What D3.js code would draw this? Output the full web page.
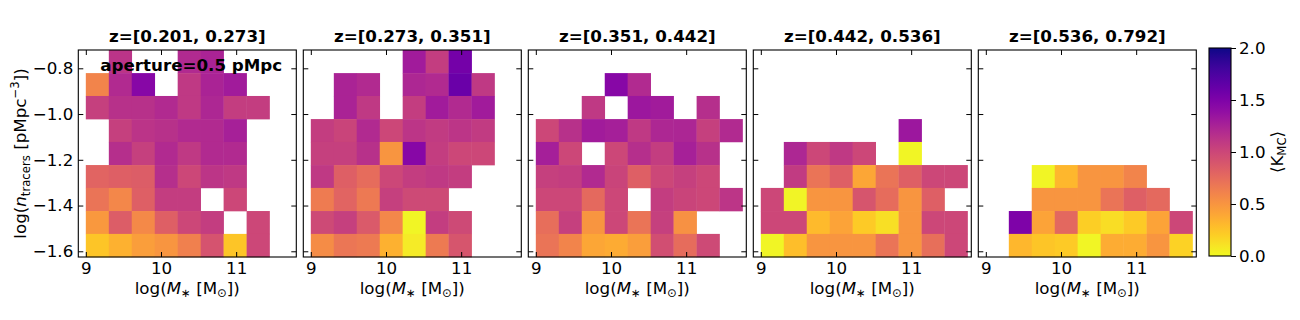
<!DOCTYPE html>
<html>
<head>
<meta charset="utf-8">
<script src="https://cdn.jsdelivr.net/npm/d3@7"></script>
<style>
  body { margin: 0; background: #fff; }
  svg { font-family: "DejaVu Sans", sans-serif; }
</style>
</head>
<body>
<svg id="chart" width="1300" height="320"></svg>
<script>
// redshift bins, one panel each
const zBins = ["z=[0.201, 0.273]", "z=[0.273, 0.351]", "z=[0.351, 0.442]", "z=[0.442, 0.536]", "z=[0.536, 0.792]"];

// bin edges
const massEdges = [9.000, 9.306, 9.611, 9.917, 10.222, 10.528, 10.833, 11.139, 11.444, 11.750];
const densEdges = [-1.625, -1.524, -1.424, -1.323, -1.223, -1.122, -1.022, -0.921, -0.821, -0.720];

const massTicks = [9, 10, 11];
const densTicks = [-0.8, -1.0, -1.2, -1.4, -1.6];
const kTicks = [0, 0.5, 1.0, 1.5, 2.0];

// <K_MC> per cell, rows from the top density bin down, null = empty
const n = null;
const kmcZ1 = [
    [n, 1.13, n, n, 1.2, 1.25, n, n, n],
    [0.6, 1.2, 1.45, n, 1.1, 1.25, 1.3, n, n],
    [1.05, 1.15, 1.15, 1.2, 1.1, 1.22, 1.07, 1.07, n],
    [n, 1.05, 1.13, 1.15, 1.2, 1.2, 1.27, n, n],
    [n, 1.17, 1.05, 1.2, 1.1, 1.2, 1.2, n, n],
    [0.8, 0.83, 0.85, 1.17, 1.0, 1.12, 1.1, n, n],
    [0.7, 0.58, 0.83, 1.07, 1.07, n, 1.0, n, n],
    [0.48, 0.85, 0.57, 0.83, 1.0, 1.07, n, 1.0, n],
    [0.25, 0.35, 0.45, 0.5, 0.62, 0.92, 0.25, 1.0, n]
];
const kmcZ2 = [
    [n, n, n, n, 1.3, 1.07, 1.55, n, n],
    [n, 1.25, 1.2, n, 1.22, 1.2, 1.6, 1.1, n],
    [n, 1.25, 1.1, n, 1.07, 1.3, 1.2, 1.3, n],
    [1.07, 1.02, 1.2, 1.0, 1.12, 1.08, 1.12, 1.08, n],
    [1.05, 1.05, 1.15, 0.5, 1.45, 1.07, 1.0, 1.0, n],
    [1.1, 0.83, 0.75, 1.0, 1.07, 1.1, 1.07, n, n],
    [0.65, 0.8, 0.67, 1.05, 0.98, 0.98, n, n, n],
    [0.98, 1.05, 0.87, 0.58, 0.02, 1.07, 0.98, n, n],
    [0.55, 0.68, 0.66, 0.35, 0.07, 0.66, 0.9, n, n]
];
const kmcZ3 = [
    [n, n, n, n, n, n, n, n, n],
    [n, n, n, 1.45, 1.2, n, n, n, n],
    [n, n, 1.1, n, 1.33, 1.3, n, 1.17, n],
    [1.0, 1.15, 1.3, 1.28, 1.1, 1.22, 1.23, 1.05, 1.2],
    [1.28, 1.0, n, 1.0, 1.17, 1.07, 1.27, 1.15, n],
    [1.05, 1.07, 1.2, 1.02, 0.83, 1.0, 1.05, 1.0, n],
    [1.0, 1.0, 0.77, 1.0, n, 1.07, 1.02, 1.0, 1.12],
    [0.74, 1.05, 0.5, 1.0, 0.7, 1.05, 0.52, n, n],
    [0.7, 0.6, 0.4, 0.38, 0.45, 0.95, 0.75, 0.98, n]
];
const kmcZ4 = [
    [n, n, n, n, n, n, n, n, n],
    [n, n, n, n, n, n, n, n, n],
    [n, n, n, n, n, n, n, n, n],
    [n, n, n, n, n, n, 1.33, n, n],
    [n, 1.22, 1.0, 1.1, 1.0, n, 0.02, n, n],
    [n, 1.08, 0.7, 0.83, 0.4, 0.7, 0.83, 1.0, 1.0],
    [1.0, 0.03, 0.5, 0.5, 0.9, 0.75, 0.5, 0.83, n],
    [1.0, 1.0, 0.3, 0.42, 0.22, 0.12, 0.5, 1.0, 1.0],
    [0.02, 0.28, 0.5, 0.5, 0.5, 0.7, 0.5, 0.73, 1.0]
];
const kmcZ5 = [
    [n, n, n, n, n, n, n, n, n],
    [n, n, n, n, n, n, n, n, n],
    [n, n, n, n, n, n, n, n, n],
    [n, n, n, n, n, n, n, n, n],
    [n, n, n, n, n, n, n, n, n],
    [n, n, 0.02, 0.32, 0.5, 0.5, 0.6, n, n],
    [n, n, 0.5, 0.5, 0.5, 0.7, 0.83, 0.77, n],
    [n, 1.5, 0.42, 0.78, 0.2, 0.13, 0.22, 0.42, 1.0],
    [n, 0.32, 0.25, 0.22, 0.02, 0.37, 0.37, 0.5, 0.18]
];
const panels = [kmcZ1, kmcZ2, kmcZ3, kmcZ4, kmcZ5];

const svg = d3.select("#chart");
const FS = 16.7;

const panelW = 218, panelH = 207, panelTop = 50, step = 225, left0 = 78.3;

const x = d3.scaleLinear().domain([8.9, 11.8]).range([0, panelW]);
const y = d3.scaleLinear().domain([-1.625, -0.72]).range([panelH, 0]);

// plasma reversed, 0 -> yellow, 2 -> dark blue
const color = d3.scaleSequential(t => d3.interpolatePlasma(1 - t)).domain([0, 2]);

function styleAxis(g) {
    g.select(".domain").remove();
    g.attr("font-size", null).attr("font-family", null);
    g.selectAll("line").attr("stroke", "#000").attr("stroke-width", 1);
    g.selectAll("text").style("font-size", FS + "px").attr("fill", "#000");
}

panels.forEach((grid, p) => {
    const g = svg.append("g").attr("transform", `translate(${left0 + p * step},${panelTop})`);

    grid.forEach((row, r) => {
        const yi = densEdges.length - 2 - r;
        row.forEach((v, c) => {
            if (v === null) return;
            g.append("rect")
                .attr("x", x(massEdges[c]))
                .attr("y", y(densEdges[yi + 1]))
                .attr("width", x(massEdges[c + 1]) - x(massEdges[c]) + 0.3)
                .attr("height", y(densEdges[yi]) - y(densEdges[yi + 1]) + 0.3)
                .attr("fill", color(v));
        });
    });

    if (p === 0) {
        g.append("text")
            .attr("x", 22).attr("y", 21)
            .style("font-size", FS + "px").style("font-weight", "bold")
            .text("aperture=0.5 pMpc");
    }

    g.append("g").attr("transform", `translate(0,${panelH})`)
        .call(d3.axisBottom(x).tickValues(massTicks).tickFormat(d3.format("d"))
            .tickSizeInner(-5).tickSizeOuter(0).tickPadding(5))
        .call(styleAxis);
    g.append("g")
        .call(d3.axisTop(x).tickValues(massTicks).tickFormat("").tickSizeInner(-5).tickSizeOuter(0))
        .call(styleAxis);
    g.append("g")
        .call(d3.axisLeft(y).tickValues(densTicks).tickFormat(p === 0 ? d3.format(".1f") : "")
            .tickSizeInner(-5).tickSizeOuter(0).tickPadding(5))
        .call(styleAxis);
    g.append("g").attr("transform", `translate(${panelW},0)`)
        .call(d3.axisRight(y).tickValues(densTicks).tickFormat("").tickSizeInner(-5).tickSizeOuter(0))
        .call(styleAxis);

    g.append("rect")
        .attr("width", panelW).attr("height", panelH)
        .attr("fill", "none").attr("stroke", "#000").attr("stroke-width", 1.1);

    g.append("text")
        .attr("x", panelW / 2).attr("y", -8)
        .attr("text-anchor", "middle")
        .style("font-size", FS + "px").style("font-weight", "bold")
        .text(zBins[p]);

    const xl = g.append("text")
        .attr("x", panelW / 2).attr("y", panelH + 37)
        .attr("text-anchor", "middle")
        .style("font-size", FS + "px");
    xl.append("tspan").text("log(");
    xl.append("tspan").style("font-style", "italic").text("M");
    xl.append("tspan").attr("dy", 3).style("font-size", (FS * 0.7) + "px").text("∗");
    xl.append("tspan").attr("dy", -3).text(" [M");
    xl.append("tspan").attr("dy", 3).style("font-size", (FS * 0.7) + "px").text("⊙");
    xl.append("tspan").attr("dy", -3).text("])");
});

// y label
const yl = svg.append("text")
    .attr("transform", `translate(26,${panelTop + panelH / 2}) rotate(-90)`)
    .attr("text-anchor", "middle")
    .style("font-size", FS + "px");
yl.append("tspan").text("log(");
yl.append("tspan").style("font-style", "italic").text("n");
yl.append("tspan").attr("dy", 3.5).style("font-size", (FS * 0.7) + "px").text("tracers");
yl.append("tspan").attr("dy", -3.5).text(" [pMpc");
yl.append("tspan").attr("dy", -7).style("font-size", (FS * 0.7) + "px").text("−3");
yl.append("tspan").attr("dy", 7).text("])");

// colorbar
const cbX = 1209, cbW = 22, cbTop = 48, cbBot = 256;
const cScale = d3.scaleLinear().domain([0, 2]).range([cbBot, cbTop]);
const grad = svg.append("defs").append("linearGradient")
    .attr("id", "cbGrad").attr("x1", 0).attr("y1", 1).attr("x2", 0).attr("y2", 0);
d3.range(0, 1.0001, 0.05).forEach(t => {
    grad.append("stop").attr("offset", t).attr("stop-color", color(t * 2));
});
svg.append("rect")
    .attr("x", cbX).attr("y", cbTop).attr("width", cbW).attr("height", cbBot - cbTop)
    .attr("fill", "url(#cbGrad)").attr("stroke", "#000").attr("stroke-width", 1.1);
svg.append("g").attr("transform", `translate(${cbX + cbW},0)`)
    .call(d3.axisRight(cScale).tickValues(kTicks).tickFormat(d3.format(".1f"))
        .tickSizeInner(5).tickSizeOuter(0).tickPadding(3))
    .call(styleAxis);

const cl = svg.append("text")
    .attr("transform", `translate(1283,${(cbTop + cbBot) / 2}) rotate(-90)`)
    .attr("text-anchor", "middle")
    .style("font-size", FS + "px");
cl.append("tspan").text("⟨K");
cl.append("tspan").attr("dy", 3).style("font-size", (FS * 0.7) + "px").text("MC");
cl.append("tspan").attr("dy", -3).text("⟩");
</script>
</body>
</html>
